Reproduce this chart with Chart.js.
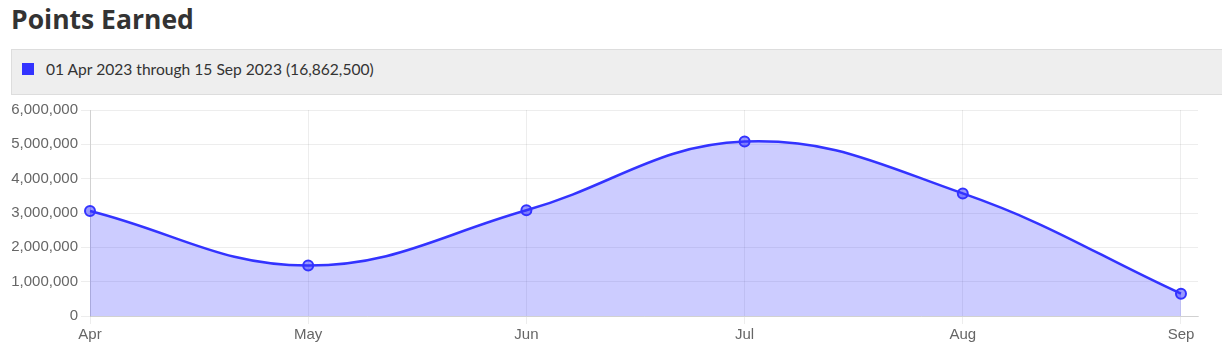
<!DOCTYPE html>
<html>
<head>
<meta charset="utf-8">
<script src="https://cdn.jsdelivr.net/npm/chart.js@4.4.0/dist/chart.umd.min.js"></script>
<style>
  html, body { margin: 0; padding: 0; background: #fff; overflow: hidden; }
  body { width: 1222px; height: 361px; position: relative; }
  #title { position: absolute; left: 11px; top: 0px; margin: 0; font-family: "Open Sans", sans-serif; font-weight: 700; font-size: 26.5px; color: #333; line-height: 38px; }
  #legend { position: absolute; left: 11px; top: 49px; width: 1230px; height: 46px; background: #eeeeee; border-top: 1px solid #dddddd; border-bottom: 1px solid #dddddd; border-left: 1px solid #dddddd; box-sizing: border-box; }
  #legend .sq { position: absolute; left: 10px; top: 13px; width: 12px; height: 12px; background: #3333ff; }
  #legend .txt { position: absolute; left: 34px; top: 10px; font-family: Lato, sans-serif; font-size: 15.6px; color: #333; line-height: 18px; white-space: nowrap; }
  #wrap { position: absolute; left: 0; top: 95px; width: 1222px; height: 266px; }
</style>
</head>
<body>
<h2 id="title">Points Earned</h2>
<div id="legend"><span class="sq"></span><span class="txt" id="legendText"></span></div>
<div id="wrap"><canvas id="c"></canvas></div>
<script>
const titleText = "Points Earned";
const seriesLabel = "01 Apr 2023 through 15 Sep 2023 (16,862,500)";
const categories = ["Apr", "May", "Jun", "Jul", "Aug", "Sep"];
const pointsEarned = [3060000, 1470000, 3080000, 5080000, 3570000, 650000];
const yTicks = [0, 1000000, 2000000, 3000000, 4000000, 5000000, 6000000];

document.getElementById('title').textContent = titleText;
document.getElementById('legendText').textContent = seriesLabel;

const data = pointsEarned.map((v, i) => ({ x: i, y: v }));

new Chart(document.getElementById('c'), {
  type: 'line',
  data: {
    datasets: [{
      label: seriesLabel,
      data: data,
      borderColor: '#3333ff',
      backgroundColor: 'rgba(51,51,255,0.25)',
      borderWidth: 2.5,
      fill: 'origin',
      tension: 0.4,
      pointRadius: 5,
      pointBackgroundColor: 'rgba(51,51,255,0.5)',
      pointBorderColor: '#3333ff',
      pointBorderWidth: 2,
      clip: false
    }]
  },
  options: {
    responsive: true,
    maintainAspectRatio: false,
    animation: false,
    layout: { padding: { top: 15, right: 24, bottom: 15, left: 10 } },
    plugins: { legend: { display: false }, tooltip: { enabled: false } },
    scales: {
      x: {
        type: 'linear',
        min: 0,
        max: 5.078,
        afterBuildTicks: (scale) => { scale.ticks = categories.map((_, i) => ({ value: i })); },
        ticks: {
          autoSkip: false,
          maxRotation: 0,
          padding: 2,
          color: '#666',
          font: { family: 'Liberation Sans, Arial, sans-serif', size: 15 },
          callback: (v) => categories[v] ?? ''
        },
        grid: { color: 'rgba(0,0,0,0.07)', tickLength: 8 },
        border: { color: 'rgba(0,0,0,0.12)' }
      },
      y: {
        min: 0,
        max: 6000000,
        afterFit: (scale) => { scale.width = 80; },
        afterBuildTicks: (scale) => { scale.ticks = yTicks.map(v => ({ value: v })); },
        ticks: {
          padding: 3,
          color: '#666',
          font: { family: 'Liberation Sans, Arial, sans-serif', size: 15 },
          callback: (v) => Number(v).toLocaleString('en-US')
        },
        grid: { color: 'rgba(0,0,0,0.07)', tickLength: 9 },
        border: { color: 'rgba(0,0,0,0.12)' }
      }
    }
  }
});
</script>
</body>
</html>
